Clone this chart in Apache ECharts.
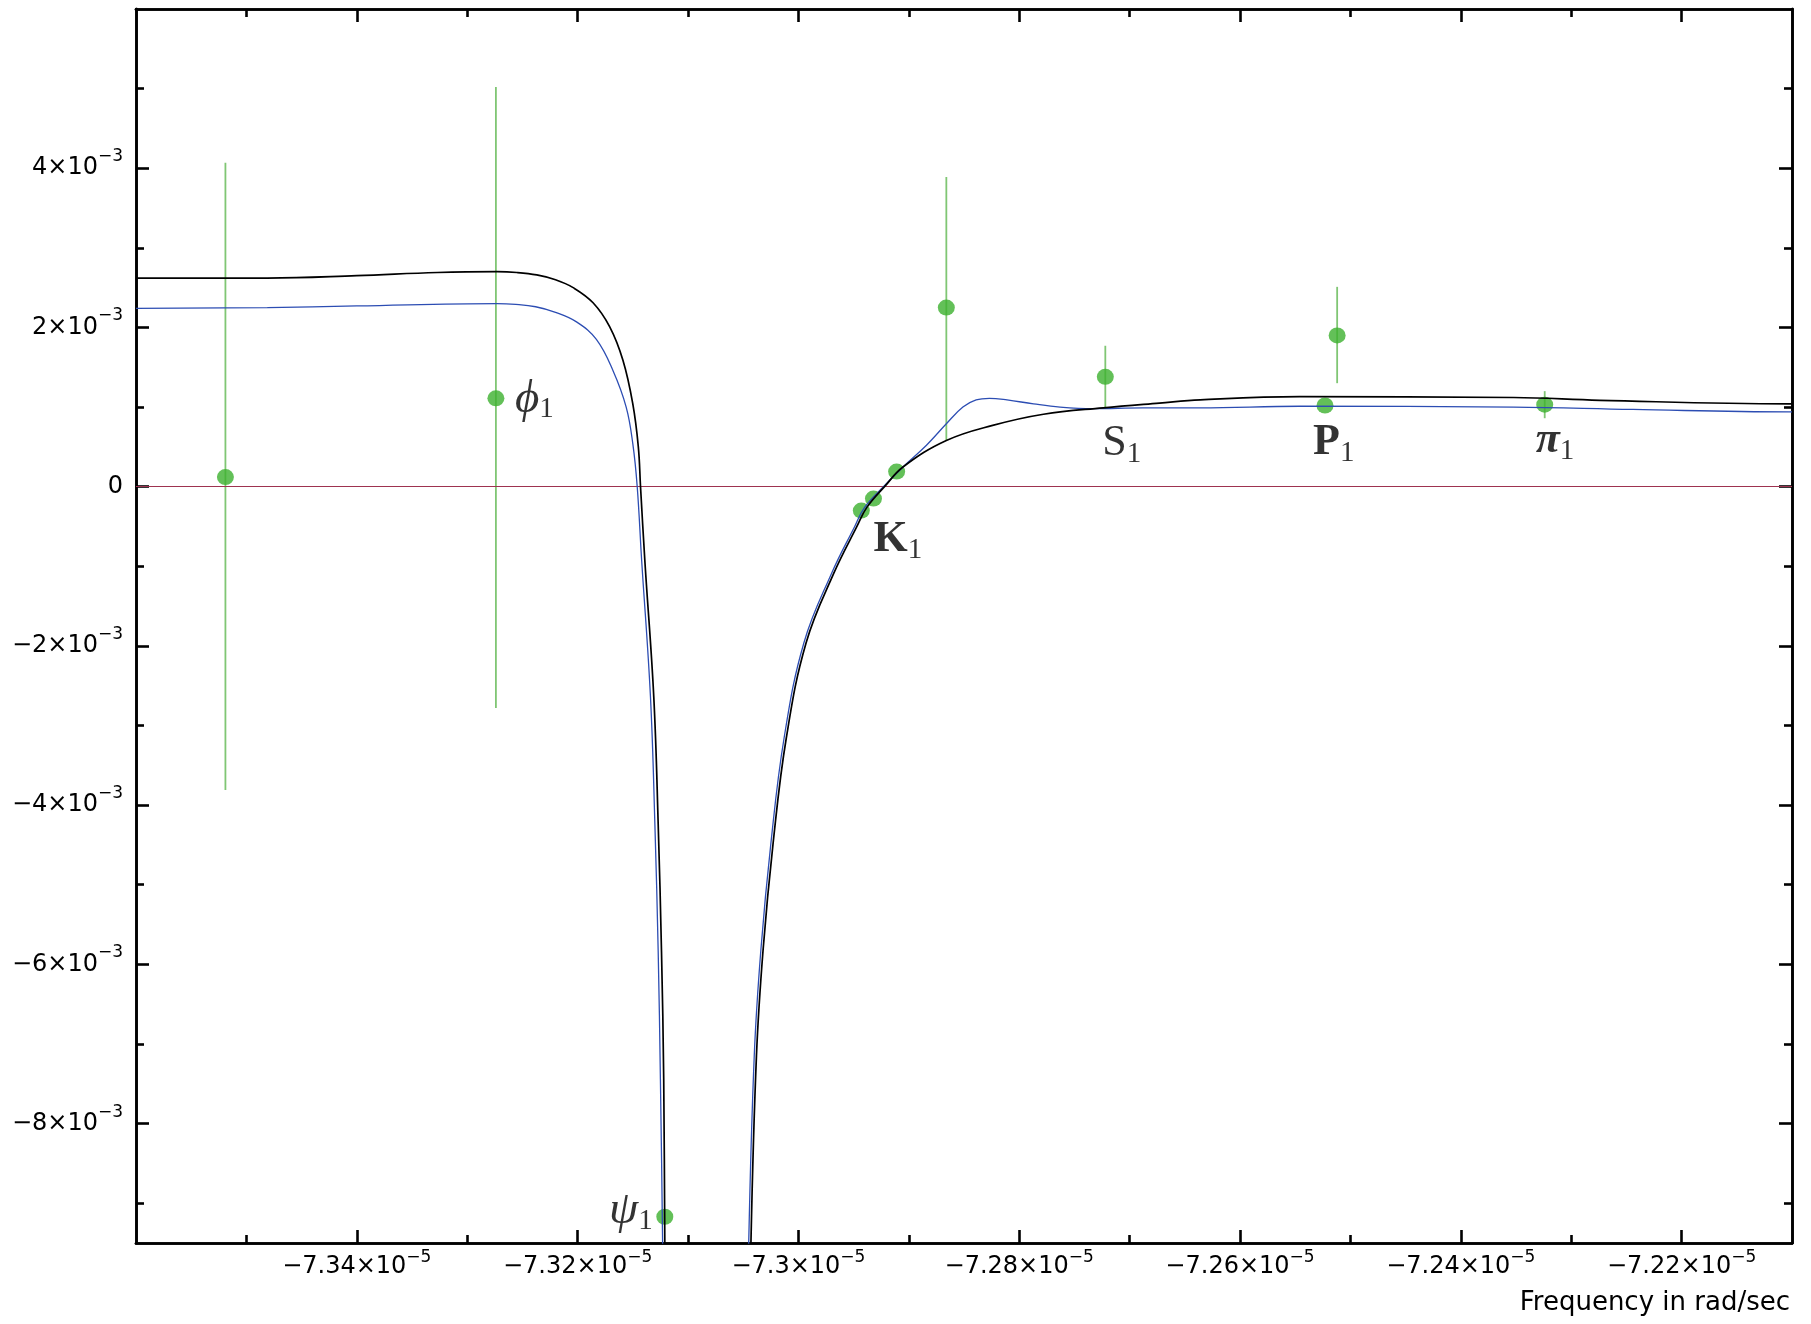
<!DOCTYPE html>
<html>
<head>
<meta charset="utf-8">
<title>Nutation response vs frequency</title>
<script src="https://cdn.jsdelivr.net/npm/echarts@6/dist/echarts.min.js"></script>
<style>
  html, body { margin: 0; padding: 0; background: #fff; }
  #chart { width: 1811px; height: 1324px; }
</style>
</head>
<body>
<div id="chart"></div>
<script>
// x: frequency in units of 1e-5 rad/sec, y: amplitude in units of 1e-3
const X_MIN = -7.36, X_MAX = -7.21;
const Y_MIN = -9.5, Y_MAX = 6;

const xMajor = [-7.34, -7.32, -7.30, -7.28, -7.26, -7.24, -7.22];
const xMinor = [-7.35, -7.33, -7.31, -7.29, -7.27, -7.25, -7.23];
const yMajor = [-8, -6, -4, -2, 0, 2, 4];
const yMinor = [-9, -7, -5, -3, -1, 1, 3, 5];

// observed tidal terms (green points) with error bars
const tideFreq  = [-7.3519, -7.3274, -7.3121, -7.2943, -7.2932, -7.2911, -7.2866, -7.2722, -7.2523, -7.2512, -7.2324];
const tideAmp   = [0.12, 1.11, -9.17, -0.30, -0.15, 0.19, 2.25, 1.38, 1.02, 1.90, 1.03];
const tideErrLo = [-3.81, -2.78, null, null, null, null, 0.58, 1.00, null, 1.30, 0.86];
const tideErrHi = [4.07, 5.02, null, null, null, null, 3.89, 1.77, null, 2.51, 1.20];
const tideName  = ['', 'ϕ', 'ψ', '', 'K', '', '', 'S', 'P', '', 'π'];

// black model curve, two branches around the resonance
const blackLeftX = [-7.3600, -7.3481, -7.3400, -7.3327, -7.3273, -7.3255, -7.3237, -7.3220, -7.3204, -7.3186, -7.3171, -7.3159, -7.3150, -7.3145, -7.3143, -7.3139, -7.3131, -7.3127, -7.3124, -7.3122, -7.3121, -7.3120];
const blackLeftY = [2.62, 2.62, 2.65, 2.69, 2.70, 2.69, 2.66, 2.60, 2.50, 2.31, 2.01, 1.59, 1.04, 0.50, 0.00, -0.95, -2.64, -4.24, -5.84, -7.44, -9.50, -11.0];
const blackRightX = [-7.3044, -7.3043, -7.3038, -7.3032, -7.3023, -7.3011, -7.2993, -7.2968, -7.2947, -7.2938, -7.2922, -7.2905, -7.2866, -7.2824, -7.2778, -7.2724, -7.2673, -7.2636, -7.2546, -7.2352, -7.2274, -7.2103, -7.2100];
const blackRightY = [-11.0, -9.50, -7.15, -5.82, -4.49, -3.16, -1.96, -1.09, -0.50, -0.26, 0.00, 0.25, 0.58, 0.77, 0.91, 0.99, 1.05, 1.09, 1.13, 1.12, 1.085, 1.04, 1.04];

// blue model curve
const blueLeftX = [-7.3600, -7.3481, -7.3400, -7.3273, -7.3256, -7.3238, -7.3220, -7.3201, -7.3183, -7.3168, -7.3156, -7.3150, -7.3146, -7.3142, -7.3134, -7.3130, -7.3127, -7.3125, -7.3123, -7.3122];
const blueLeftY = [2.24, 2.25, 2.27, 2.30, 2.29, 2.26, 2.19, 2.07, 1.85, 1.46, 1.00, 0.54, 0.00, -0.92, -2.64, -4.24, -5.84, -7.44, -9.50, -11.0];
const blueRightX = [-7.3046, -7.3045, -7.3040, -7.3034, -7.3025, -7.3013, -7.2995, -7.2970, -7.2949, -7.2940, -7.2923, -7.2905, -7.2884, -7.2866, -7.2851, -7.2839, -7.2827, -7.2811, -7.2787, -7.2763, -7.2733, -7.2688, -7.2636, -7.2546, -7.2352, -7.2244, -7.2103, -7.2100];
const blueRightY = [-11.0, -9.50, -7.15, -5.82, -4.49, -3.16, -1.96, -1.09, -0.50, -0.26, 0.00, 0.25, 0.52, 0.79, 1.00, 1.09, 1.11, 1.09, 1.04, 1.00, 0.98, 0.99, 0.99, 1.01, 1.00, 0.97, 0.94, 0.94];

const SANS = "'DejaVu Sans', 'Liberation Sans', sans-serif";
const SERIF = "'Liberation Serif', 'DejaVu Serif', serif";

function pairs(xs, ys) {
  return xs.map((x, i) => [x, ys[i]]);
}

function sciLabel(v, exp) {
  if (Math.abs(v) < 1e-9) return '{m|0}';
  const s = String(Number(v.toFixed(2))).replace('-', '\u2212');
  return '{m|' + s + '\u00d710}{e|\u2212' + exp + '}';
}

function tickRich(lh) {
  return {
    m: { fontFamily: SANS, fontSize: 24, lineHeight: lh, color: '#000' },
    e: { fontFamily: SANS, fontSize: 17, lineHeight: 17, verticalAlign: 'top', color: '#000' }
  };
}

const frameLine = { show: true, onZero: false, lineStyle: { color: '#000', width: 2.6 } };

function makeX(position, ticks, len, withLabels) {
  return {
    type: 'value', gridIndex: 0, position: position,
    min: X_MIN, max: X_MAX,
    axisLine: frameLine,
    axisTick: { show: true, inside: true, length: len, customValues: ticks,
      lineStyle: { color: '#000', width: 2.6 } },
    axisLabel: withLabels ? {
      show: true, customValues: ticks, margin: 6, verticalAlign: 'top',
      formatter: v => sciLabel(v, 5), rich: tickRich(36)
    } : { show: false },
    splitLine: { show: false }
  };
}

function makeY(position, ticks, len, withLabels) {
  return {
    type: 'value', gridIndex: 0, position: position,
    min: Y_MIN, max: Y_MAX,
    axisLine: frameLine,
    axisTick: { show: true, inside: true, length: len, customValues: ticks,
      lineStyle: { color: '#000', width: 2.6 } },
    axisLabel: withLabels ? {
      show: true, customValues: ticks, margin: 13,
      formatter: v => sciLabel(v, 3), rich: tickRich(40)
    } : { show: false },
    splitLine: { show: false }
  };
}

// where each tide name sits relative to its point
const labelPlace = {
  'ϕ': { offset: [19, 1], align: 'left', fontStyle: 'italic', fontWeight: 'normal' },
  'ψ': { offset: [-12, -6], align: 'right', fontStyle: 'italic', fontWeight: 'normal' },
  'K': { offset: [0, 41], align: 'left', fontStyle: 'normal', fontWeight: 'bold' },
  'S': { offset: [-3, 67], align: 'left', fontStyle: 'normal', fontWeight: 'normal' },
  'P': { offset: [-12, 37], align: 'left', fontStyle: 'normal', fontWeight: 'bold' },
  'π': { offset: [-9, 36], align: 'left', fontStyle: 'italic', fontWeight: 'bold' }
};

const pointData = tideFreq.map((f, i) => {
  const item = { value: [f, tideAmp[i]] };
  const name = tideName[i];
  if (name) {
    const p = labelPlace[name];
    const big = (name === 'ϕ' || name === 'ψ') ? 47 : 44;
    item.label = {
      show: true, position: 'inside', offset: p.offset, align: p.align,
      verticalAlign: 'middle', color: '#000', textBorderWidth: 0,
      formatter: '{g|' + name + '}{n|1}',
      rich: {
        g: { fontFamily: SERIF, fontSize: big, lineHeight: 50, color: '#000',
             textBorderWidth: 0, fontStyle: p.fontStyle, fontWeight: p.fontWeight },
        n: { fontFamily: SERIF, fontSize: 29, lineHeight: 29, verticalAlign: 'bottom',
             color: '#000', textBorderWidth: 0 }
      }
    };
  }
  return item;
});

const errData = tideFreq
  .map((f, i) => [f, tideErrLo[i], tideErrHi[i]])
  .filter(d => d[1] !== null);

function curve(data, color, width) {
  return {
    type: 'line', data: data, xAxisIndex: 0, yAxisIndex: 0,
    showSymbol: false, smooth: 0.4, clip: true,
    lineStyle: { color: color, width: width }, z: 5, silent: true
  };
}

const chart = echarts.init(document.getElementById('chart'), null, { renderer: 'canvas' });

chart.setOption({
  animation: false,
  backgroundColor: '#fff',
  grid: { left: 136, right: 19, top: 9, bottom: 81 },
  xAxis: [
    makeX('bottom', xMajor, 13, true),
    makeX('bottom', xMinor, 8, false),
    makeX('top', xMajor, 13, false),
    makeX('top', xMinor, 8, false)
  ],
  yAxis: [
    makeY('left', yMajor, 13, true),
    makeY('left', yMinor, 8, false),
    makeY('right', yMajor, 13, false),
    makeY('right', yMinor, 8, false)
  ],
  graphic: [{
    type: 'text', right: 21, top: 1290,
    style: { text: 'Frequency in rad/sec', font: '26px ' + SANS, fill: '#000' }
  }],
  series: [
    {
      type: 'line', data: [], z: 1, silent: true,
      markLine: {
        silent: true, symbol: 'none', animation: false,
        label: { show: false },
        lineStyle: { color: '#9e3350', width: 1.2, type: 'solid' },
        data: [{ yAxis: 0 }]
      }
    },
    {
      type: 'custom', data: errData, z: 2, silent: true,
      encode: { x: 0, y: [1, 2] },
      renderItem: (params, api) => {
        const p1 = api.coord([api.value(0), api.value(1)]);
        const p2 = api.coord([api.value(0), api.value(2)]);
        return {
          type: 'line',
          shape: { x1: p1[0], y1: p1[1], x2: p2[0], y2: p2[1] },
          style: { stroke: '#80c674', lineWidth: 1.8 }
        };
      }
    },
    {
      type: 'scatter', data: pointData, z: 3,
      symbol: 'circle', symbolSize: [17, 16],
      itemStyle: { color: '#3cb02e' }
    },
    curve(pairs(blueLeftX, blueLeftY), '#2c4db3', 1.3),
    curve(pairs(blueRightX, blueRightY), '#2c4db3', 1.3),
    curve(pairs(blackLeftX, blackLeftY), '#000', 1.7),
    curve(pairs(blackRightX, blackRightY), '#000', 1.7)
  ]
});
</script>
</body>
</html>
